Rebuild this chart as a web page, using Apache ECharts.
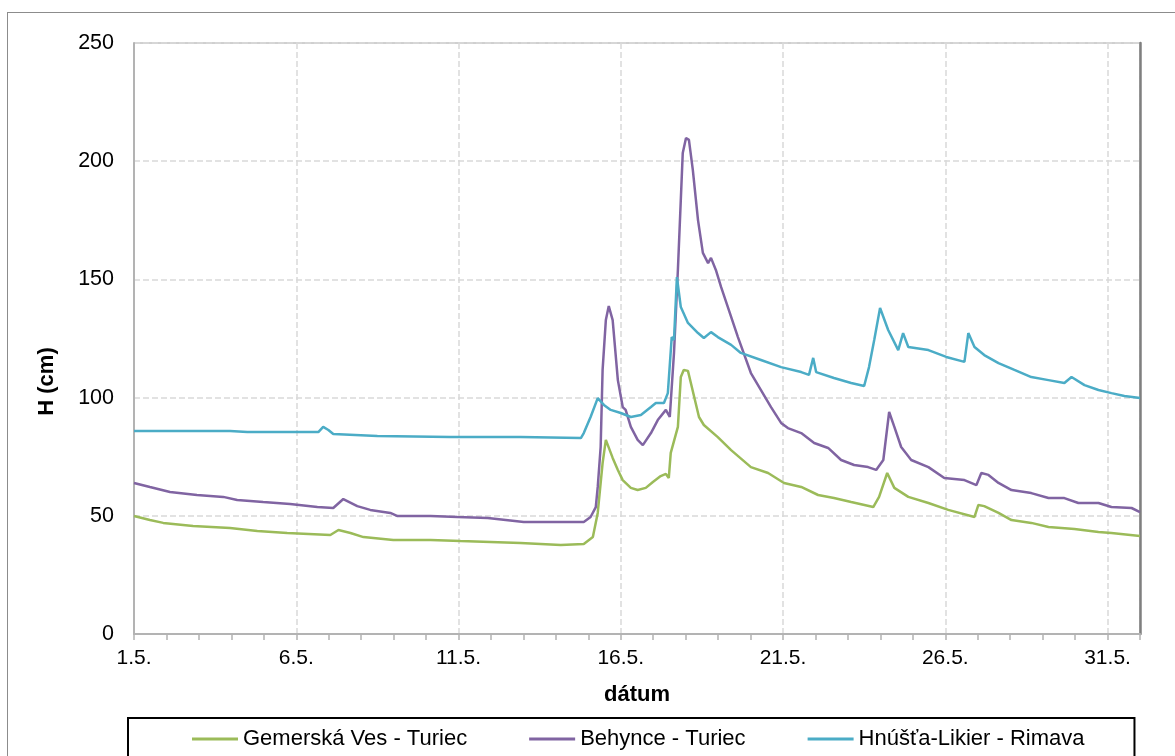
<!DOCTYPE html>
<html>
<head>
<meta charset="utf-8">
<script src="https://cdn.jsdelivr.net/npm/echarts@6/dist/echarts.min.js"></script>
<style>
  html, body { margin: 0; padding: 0; background: #fff; overflow: hidden; }
  #chart { position: absolute; left: 0; top: 0; width: 1175px; height: 756px; }
  #frame { position: absolute; left: 7px; top: 12px; width: 1200px; height: 800px; border: 1.5px solid #8c8c8c; box-sizing: border-box; pointer-events: none; }
</style>
</head>
<body>
<div id="chart"></div>
<div id="frame"></div>
<script>
// time axis = days since 1.5. 00:00, water level H in cm
const seriesNames = ['Gemerská Ves - Turiec', 'Behynce - Turiec', 'Hnúšťa-Likier - Rimava']
const colors = ['#9bbb59', '#8064a2', '#4bacc6']

const gemT = [0, 0.49, 0.9, 1.82, 2.96, 3.8, 4.72, 6.05, 6.3, 6.67, 7.07, 7.99, 9.14, 10.06, 11.91, 13.15, 13.86, 14.14, 14.29, 14.44, 14.54, 14.75, 14.91, 15.06, 15.31, 15.52, 15.77, 15.99, 16.23, 16.39, 16.48, 16.54, 16.76, 16.85, 16.94, 17.07, 17.16, 17.41, 17.56, 17.99, 18.4, 19.01, 19.54, 20.03, 20.56, 21.08, 21.57, 22.1, 22.78, 22.96, 23.21, 23.43, 23.86, 24.48, 25.09, 25.9, 26.02, 26.2, 26.64, 27.04, 27.65, 28.18, 28.98, 29.72, 30.12, 31]
const gemV = [49.9, 48.2, 47.0, 45.7, 44.8, 43.6, 42.7, 41.9, 44.0, 42.7, 41.0, 39.8, 39.8, 39.3, 38.5, 37.6, 38.1, 41.0, 51.2, 72.3, 82.1, 74.5, 69.4, 65.1, 61.8, 60.9, 61.8, 64.3, 66.8, 67.7, 66.0, 76.6, 87.6, 108.7, 111.7, 111.3, 106.2, 91.8, 88.4, 83.3, 77.8, 70.6, 68.1, 63.9, 62.2, 58.8, 57.5, 55.8, 53.7, 58.0, 68.1, 61.8, 58.0, 55.4, 52.5, 49.5, 54.6, 54.1, 51.2, 48.2, 47.0, 45.3, 44.4, 43.1, 42.7, 41.5]

const behT = [0, 0.49, 1.11, 1.94, 2.75, 3.18, 3.98, 4.81, 5.65, 6.14, 6.45, 6.88, 7.28, 7.9, 8.12, 9.14, 9.97, 10.9, 12.01, 13.86, 14.07, 14.23, 14.29, 14.38, 14.44, 14.54, 14.63, 14.75, 14.91, 15.06, 15.15, 15.31, 15.52, 15.68, 15.93, 16.14, 16.39, 16.51, 16.64, 16.76, 16.91, 17.01, 17.1, 17.22, 17.38, 17.53, 17.69, 17.78, 17.93, 18.09, 18.3, 18.61, 19.01, 19.32, 19.63, 19.94, 20.15, 20.56, 20.96, 21.39, 21.79, 22.19, 22.62, 22.87, 23.09, 23.27, 23.43, 23.64, 23.95, 24.48, 24.97, 25.59, 25.96, 26.11, 26.33, 26.64, 27.04, 27.65, 28.18, 28.67, 29.1, 29.72, 30.12, 30.74, 31]
const behV = [63.9, 62.2, 60.1, 58.8, 58.0, 56.7, 55.8, 55.0, 53.7, 53.3, 57.1, 54.1, 52.5, 51.2, 49.9, 49.9, 49.5, 49.1, 47.4, 47.4, 49.5, 53.7, 62.2, 79.1, 111.7, 132.8, 138.7, 132.8, 107.4, 96.0, 94.8, 87.6, 82.1, 79.9, 85.0, 90.5, 94.8, 91.8, 118.9, 154.0, 203.5, 209.8, 209.0, 196.3, 175.1, 161.2, 156.9, 159.1, 154.0, 146.8, 138.3, 125.6, 110.4, 103.2, 96.0, 89.3, 87.1, 85.0, 80.8, 78.7, 73.6, 71.5, 70.6, 69.4, 73.6, 93.9, 87.6, 79.1, 73.6, 70.6, 66.0, 65.1, 63.0, 68.1, 67.3, 63.9, 60.9, 59.6, 57.5, 57.5, 55.4, 55.4, 53.7, 53.3, 51.6]

const hnuT = [0, 2.96, 3.49, 5.12, 5.68, 5.83, 5.99, 6.14, 7.5, 9.75, 11.91, 13.77, 13.86, 14.07, 14.29, 14.48, 14.69, 15.0, 15.31, 15.62, 15.93, 16.08, 16.33, 16.45, 16.57, 16.64, 16.73, 16.85, 17.07, 17.38, 17.56, 17.78, 17.99, 18.4, 18.7, 19.32, 19.94, 20.56, 20.8, 20.93, 21.02, 21.57, 22.1, 22.5, 22.65, 22.81, 22.99, 23.24, 23.55, 23.7, 23.86, 24.48, 25.03, 25.59, 25.71, 25.9, 26.2, 26.64, 27.13, 27.65, 28.18, 28.67, 28.89, 29.29, 29.72, 30.12, 30.52, 31]
const hnuV = [85.9, 85.9, 85.5, 85.4, 85.4, 87.6, 86.3, 84.6, 83.8, 83.3, 83.3, 82.9, 85.0, 91.8, 99.8, 96.9, 94.8, 93.5, 91.8, 92.6, 96.0, 97.7, 97.7, 101.9, 125.6, 124.4, 151.0, 138.3, 131.6, 127.3, 125.2, 127.7, 125.6, 122.3, 118.9, 115.9, 112.9, 110.8, 109.6, 116.8, 110.8, 108.3, 106.2, 104.9, 112.9, 124.4, 137.9, 128.6, 120.1, 127.3, 121.4, 120.1, 117.2, 115.1, 127.3, 121.4, 118.0, 114.6, 111.7, 108.7, 107.4, 106.2, 108.7, 105.3, 103.2, 101.9, 100.7, 99.8]

const xTickLabel = (v) => (v + 1) + '.5.'

const seriesData = [
  gemT.map((t, i) => [t, gemV[i]]),
  behT.map((t, i) => [t, behV[i]]),
  hnuT.map((t, i) => [t, hnuV[i]]),
]

const FONT = '"Liberation Sans", Arial, sans-serif'
const chart = echarts.init(document.getElementById('chart'), null, { renderer: 'canvas' })

chart.setOption({
  animation: false,
  backgroundColor: '#fff',
  textStyle: { fontFamily: FONT, color: '#000' },
  grid: { left: 134, right: 35, top: 43, bottom: 122, show: true, borderColor: '#a0a0a0', borderWidth: 1 },
  legend: {
    left: 128, top: 718,
    padding: [10, 50, 40, 64],
    itemGap: 62, itemWidth: 46, itemHeight: 3,
    icon: 'rect',
    borderColor: '#000', borderWidth: 2,
    textStyle: { fontFamily: FONT, fontSize: 22, color: '#000' },
    data: seriesNames,
  },
  xAxis: {
    type: 'value', min: 0, max: 31, interval: 5,
    name: 'dátum', nameLocation: 'middle', nameGap: 50,
    nameTextStyle: { fontFamily: FONT, fontSize: 22, fontWeight: 'bold', color: '#000' },
    axisLine: { lineStyle: { color: '#b3b3b3', width: 2 } },
    axisTick: { show: true, length: 6, lineStyle: { color: '#b3b3b3', width: 1.5 } },
    minorTick: { show: true, splitNumber: 5, length: 6, lineStyle: { color: '#b3b3b3', width: 1.5 } },
    axisLabel: { fontSize: 21, color: '#000', margin: 14, showMaxLabel: false, formatter: xTickLabel },
    splitLine: { show: true, lineStyle: { color: '#d9d9d9', type: [6, 3], width: 1.5 } },
  },
  yAxis: [{
    type: 'value', min: 0, max: 250, interval: 50,
    name: 'H (cm)', nameLocation: 'middle', nameGap: 76, nameRotate: 90,
    nameTextStyle: { fontFamily: FONT, fontSize: 22, fontWeight: 'bold', color: '#000', padding: [0, 86, 0, 0] },
    axisLine: { show: true, lineStyle: { color: '#b3b3b3', width: 2 } },
    axisTick: { show: false },
    axisLabel: { fontSize: 21.5, color: '#000', margin: 20 },
    splitLine: { show: true, lineStyle: { color: '#d9d9d9', type: [6, 3], width: 1.5 } },
  }, {
    type: 'value', min: 0, max: 250, position: 'right',
    axisLine: { show: true, lineStyle: { color: '#7f7f7f', width: 2.5 } },
    axisTick: { show: false }, axisLabel: { show: false }, splitLine: { show: false },
  }],
  series: seriesNames.map((name, i) => ({
    name, type: 'line', data: seriesData[i],
    showSymbol: false, symbol: 'none',
    color: colors[i],
    lineStyle: { width: 2.5, color: colors[i] },
  })),
})
</script>
</body>
</html>
